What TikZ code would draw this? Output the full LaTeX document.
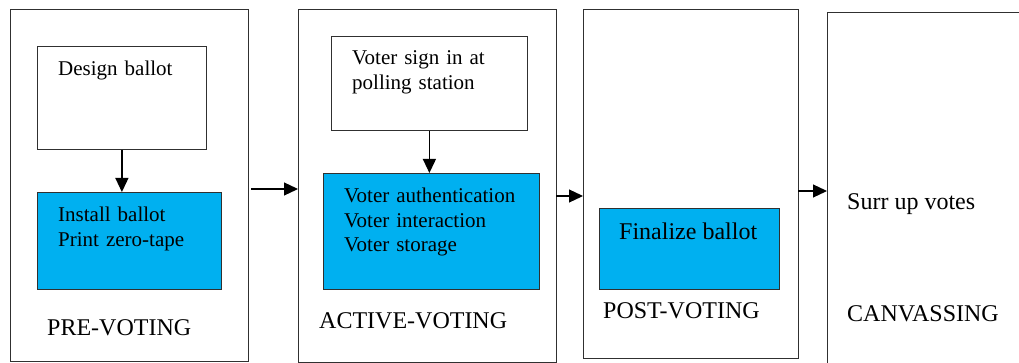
\documentclass[tikz,border=0pt]{standalone}
\usepackage{fontspec}
\setmainfont{Liberation Serif}
\usetikzlibrary{arrows.meta}
\definecolor{stageblue}{HTML}{00B0F0}
\definecolor{edge}{HTML}{303030}
\tikzset{
  stagebox/.style={draw=edge, line width=0.8pt, fill=white, inner sep=0pt, anchor=north west},
  taskbox/.style={draw=edge, line width=0.8pt, fill=white, inner sep=0pt, anchor=north west},
  actbox/.style={taskbox, fill=stageblue},
  tasktext/.style={anchor=base west, inner sep=0pt, align=left, text width=200pt,
    font=\fontsize{21}{25}\selectfont},
  stagetext/.style={anchor=base west, inner sep=0pt, font=\fontsize{24}{28}\selectfont},
  flow/.style={line width=1.2pt, -{Triangle[length=14pt,width=13pt]}}
}
\begin{document}
\begin{tikzpicture}[x=1pt, y=-1pt]
  \useasboundingbox (0,0) rectangle (1019,363);
  \fill[white] (0,0) rectangle (1019,363);
  \clip (0,0) rectangle (1019,363);

  % stage frames
  \node[stagebox, minimum width=238pt, minimum height=352pt] (pre) at (10,9) {};
  \node[stagebox, minimum width=258pt, minimum height=353pt] (active) at (298,9) {};
  \node[stagebox, minimum width=215pt, minimum height=349pt] (post) at (583,9) {};
  \node[stagebox, minimum width=230pt, minimum height=380pt] (canv) at (827,12) {};

  % pre-voting
  \node[taskbox, minimum width=169pt, minimum height=103pt] (design) at (37,46) {};
  \node[actbox, minimum width=184pt, minimum height=97pt] (install) at (37,192) {};
  \node[tasktext] (designtxt) at (58,76) {Design ballot};
  \node[tasktext] (installtxt) at (58,222) {Install ballot\\Print zero-tape};
  \node[stagetext] (pretxt) at (47,335) {PRE-VOTING};
  \draw[flow] (design.south) -- (design.south |- install.north);

  % active voting
  \node[taskbox, minimum width=196pt, minimum height=94pt] (signin) at (331,36) {};
  \node[actbox, minimum width=216pt, minimum height=116pt] (auth) at (323,173) {};
  \node[tasktext] (signintxt) at (352,65) {Voter sign in at\\polling station};
  \node[tasktext, font=\fontsize{21}{24.5}\selectfont] (authtxt) at (344,203)
    {Voter authentication\\Voter interaction\\Voter storage};
  \node[stagetext] (activetxt) at (319,328) {ACTIVE-VOTING};
  \draw[flow] (signin.south) -- (signin.south |- auth.north);

  % post voting
  \node[actbox, minimum width=180pt, minimum height=81pt] (final) at (599,208) {};
  \node[stagetext] (finaltxt) at (619,240) {Finalize ballot};
  \node[stagetext] (posttxt) at (603,318) {POST-VOTING};

  % canvassing
  \node[stagetext] (sumtxt) at (847,210) {Surr up votes};
  \node[stagetext] (canvtxt) at (847,321) {CANVASSING};

  % flow between stages
  \coordinate (s1) at (251,189);
  \coordinate (s2) at (556,196);
  \coordinate (s3) at (798,191);
  \draw[flow] (s1) -- (s1 -| active.west);
  \draw[flow] (s2) -- (s2 -| post.west);
  \draw[flow] (s3) -- (s3 -| canv.west);
\end{tikzpicture}
\end{document}
